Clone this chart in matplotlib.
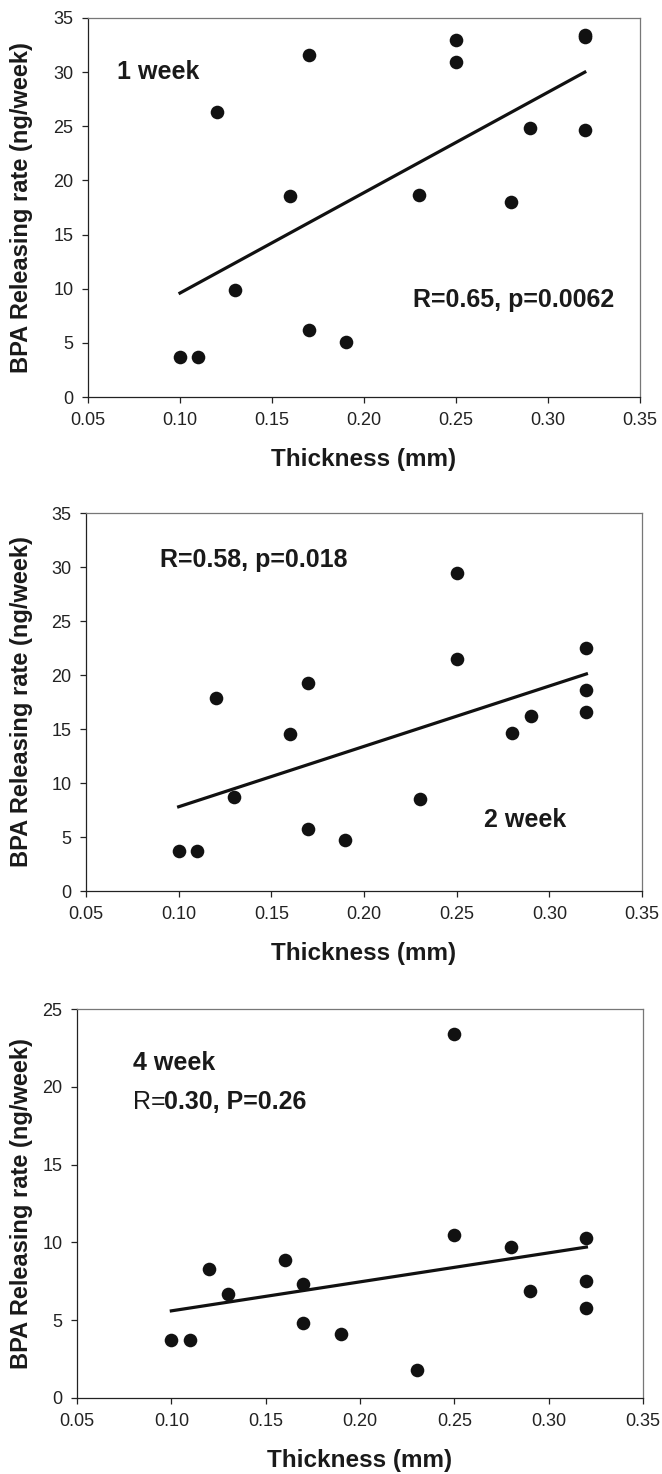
import matplotlib
matplotlib.use("Agg")
import matplotlib.pyplot as plt
import numpy as np

plt.rcParams['font.family'] = ['Liberation Sans', 'DejaVu Sans']

# ---------------- data ----------------
thickness = [0.10, 0.11, 0.12, 0.13, 0.16, 0.17, 0.17, 0.19, 0.23, 0.25, 0.25, 0.28, 0.29, 0.32, 0.32, 0.32]

rate_week1 = [3.7, 3.7, 26.3, 9.9, 18.6, 31.6, 6.2, 5.1, 18.7, 33.0, 30.9, 18.0, 24.8, 33.4, 33.2, 24.7]
rate_week2 = [3.7, 3.7, 17.9, 8.7, 14.5, 19.3, 5.7, 4.7, 8.5, 29.4, 21.5, 14.6, 16.2, 22.5, 18.6, 16.6]
rate_week4 = [3.7, 3.7, 8.3, 6.7, 8.9, 7.3, 4.8, 4.1, 1.8, 23.4, 10.5, 9.7, 6.9, 10.3, 7.5, 5.8]

# trend line end points (x from 0.10 to 0.32)
trend_x = [0.10, 0.32]
trend_week1 = [9.6, 30.0]
trend_week2 = [7.8, 20.1]
trend_week4 = [5.6, 9.7]

x_ticks = [0.05, 0.10, 0.15, 0.20, 0.25, 0.30, 0.35]
x_tick_labels = ["0.05", "0.10", "0.15", "0.20", "0.25", "0.30", "0.35"]
y_ticks_35 = [0, 5, 10, 15, 20, 25, 30, 35]
y_ticks_25 = [0, 5, 10, 15, 20, 25]

x_label = "Thickness (mm)"
y_label = "BPA Releasing rate (ng/week)"

# ---------------- figure ----------------
W, H = 662, 1474
fig = plt.figure(figsize=(W / 100, H / 100), dpi=100)

def make_axes(left, right, top, bottom):
    return fig.add_axes([left / W, 1 - bottom / H, (right - left) / W, (bottom - top) / H])

def style(ax, ymax, yticks):
    pos = ax.get_position()
    px_left, px_w, px_h = pos.x0 * W, pos.width * W, pos.height * H
    ax.set_xlim(0.05, 0.35)
    ax.set_ylim(0, ymax)
    ax.set_xticks(x_ticks)
    ax.set_xticklabels(x_tick_labels)
    ax.set_yticks(yticks)
    ax.tick_params(direction='out', length=4.5, width=0.9, pad=6,
                   labelsize=13, colors='#222222', top=False, right=False)
    for s in ['left', 'bottom']:
        ax.spines[s].set_color('#222222')
        ax.spines[s].set_linewidth(0.9)
    for s in ['top', 'right']:
        ax.spines[s].set_color('#777777')
        ax.spines[s].set_linewidth(0.9)
    ax.set_xlabel(x_label, fontsize=17.5, fontweight='bold', color='#1a1a1a')
    ax.set_ylabel(y_label, fontsize=17, fontweight='bold', color='#1a1a1a', va='center')
    ax.yaxis.set_label_coords(-(px_left - 22) / px_w, 0.5)
    ax.xaxis.set_label_coords(0.5, -51 / px_h)

def draw(ax, y, ty):
    ax.plot(thickness, y, 'o', color='#111111', markersize=9.8, markeredgewidth=0, zorder=3)
    ax.plot(trend_x, ty, '-', color='#111111', linewidth=2.3, zorder=2)

txt_kw = dict(fontsize=18, fontweight='bold', color='#1a1a1a', va='baseline', ha='left')

# Panel 1
ax1 = make_axes(88, 640, 18, 397)
draw(ax1, rate_week1, trend_week1)
style(ax1, 35, y_ticks_35)
ax1.text(0.0658, 29.4, "1 week", **txt_kw)
ax1.text(0.2266, 8.3, "R=0.65, p=0.0062", **txt_kw)

# Panel 2
ax2 = make_axes(86, 642, 513, 891)
draw(ax2, rate_week2, trend_week2)
style(ax2, 35, y_ticks_35)
ax2.text(0.0898, 30.0, "R=0.58, p=0.018", **txt_kw)
ax2.text(0.265, 5.9, "2 week", **txt_kw)

# Panel 3
ax3 = make_axes(77, 643, 1009, 1398)
draw(ax3, rate_week4, trend_week4)
style(ax3, 25, y_ticks_25)
ax3.text(0.0798, 21.05, "4 week", **txt_kw)
t_r = ax3.text(0.0798, 18.55, "R=", fontsize=18, fontweight='normal', color='#1a1a1a',
               va='baseline', ha='left')
ax3.annotate("0.30, P=0.26", xy=(1, 18.55), xycoords=(t_r, 'data'),
             xytext=(-1.5, 0), textcoords='offset points',
             fontsize=18, fontweight='bold', color='#1a1a1a', va='baseline', ha='left')

fig.savefig("out.png", dpi=100)
